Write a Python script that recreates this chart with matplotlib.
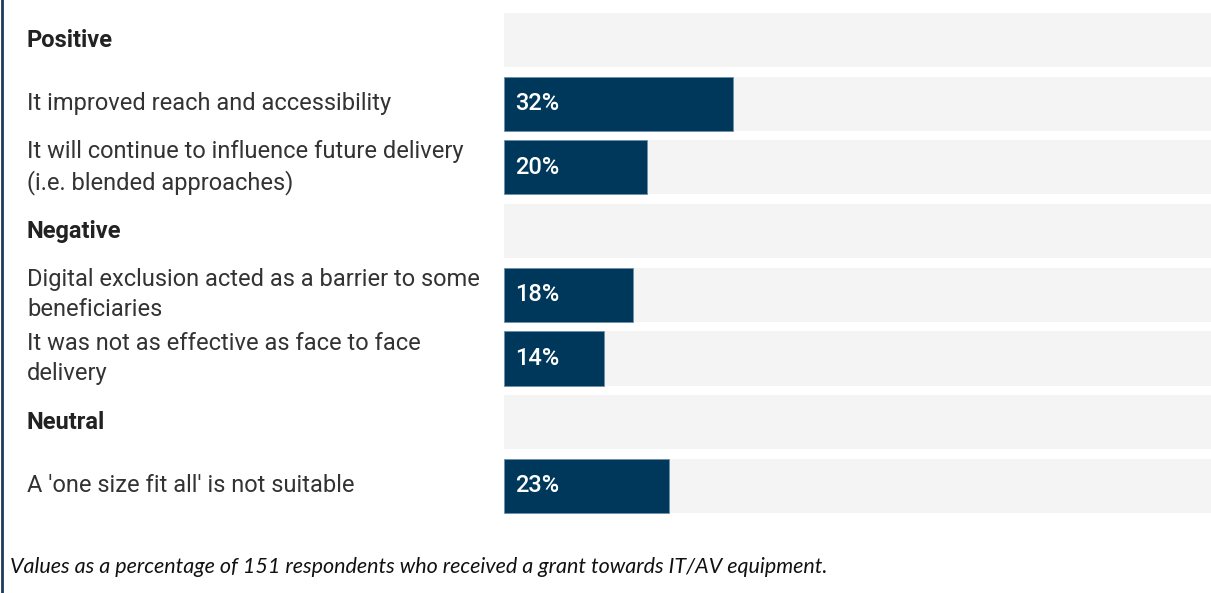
import matplotlib.pyplot as plt
from matplotlib.lines import Line2D
from matplotlib.transforms import blended_transform_factory

# ----------------------------
# Data
# ----------------------------
row_labels = [
    "Positive",
    "It improved reach and accessibility",
    "It will continue to influence future delivery\n(i.e. blended approaches)",
    "Negative",
    "Digital exclusion acted as a barrier to some\nbeneficiaries",
    "It was not as effective as face to face\ndelivery",
    "Neutral",
    "A 'one size fit all' is not suitable",
]
is_header = [True, False, False, True, False, False, True, False]
values = [None, 32, 20, None, 18, 14, None, 23]
footnote = "Values as a percentage of 151 respondents who received a grant towards IT/AV equipment."

# ----------------------------
# Style
# ----------------------------
W, H = 1211, 593
bar_color = "#00385C"
bg_color = "#F4F4F4"
text_color = "#333333"
plt.rcParams["font.family"] = ["Roboto", "DejaVu Sans"]

fig = plt.figure(figsize=(W / 100, H / 100), dpi=100)
ax = fig.add_axes([504 / W, (H - 520) / H, 1 - 504 / W, 520 / H])

pos = list(range(len(row_labels)))
xmax = (W - 504) / 7.16
ax.barh(pos, [xmax] * len(pos), height=0.85, color=bg_color, left=0)
for i, v in enumerate(values):
    if v is None:
        continue
    ax.barh(i, v, height=0.85, color=bar_color, edgecolor="#6F8FAA", linewidth=0.6)
    ax.text(1.5, i, f"{v}%", color="white", fontsize=17, fontweight="medium",
            va="center", ha="left")

ax.set_xlim(0, xmax)
ax.set_ylim(7.535, -0.628)
ax.axis("off")

# labels on the left
tr = blended_transform_factory(fig.transFigure, ax.transData)
for i, lab in enumerate(row_labels):
    if is_header[i]:
        ax.text(27 / W, i, lab, transform=tr, fontsize=17, fontweight="bold",
                color="#222222", va="center", ha="left")
    else:
        ax.text(27 / W, i, lab, transform=tr, fontsize=17, color=text_color,
                va="center", ha="left", linespacing=1.38)

# footnote
fig.text(10 / W, 1 - 567 / H, footnote, fontsize=15.5, style="italic",
         family=["Lato", "DejaVu Sans"], color="#111111", va="center", ha="left")

# left border line
fig.add_artist(Line2D([2 / W, 2 / W], [0, 1], transform=fig.transFigure,
                      color="#1F3B5C", linewidth=2))

fig.savefig("out.png", dpi=100)
